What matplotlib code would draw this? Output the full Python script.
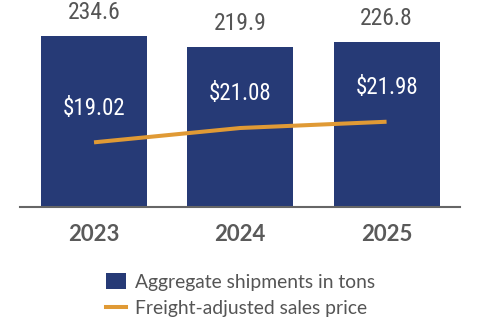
import matplotlib
matplotlib.use("Agg")
import matplotlib.pyplot as plt
from matplotlib import font_manager
from matplotlib.patches import Patch
from matplotlib.lines import Line2D

# Data
years = ["2023", "2024", "2025"]
shipments = [234.6, 219.9, 226.8]  # aggregate shipments (millions of tons)
prices = [19.02, 21.08, 21.98]  # freight-adjusted sales price ($/ton)

NAVY = "#263a76"
ORANGE = "#e09a35"
GRAY = "#555555"

# Pick a narrow font for the numbers if one is installed
names = {f.name for f in font_manager.fontManager.ttflist}
narrow = None
for cand in ["Liberation Sans Narrow", "DejaVu Sans Condensed", "Roboto Condensed"]:
    if cand in names:
        narrow = cand
        break
num_font = dict(family=narrow if narrow else "Liberation Sans")
if narrow is None:
    num_font["stretch"] = "condensed"

fig = plt.figure(figsize=(4.8, 3.22), dpi=100)
ax = fig.add_axes([20 / 480, 115 / 322, 440 / 480, 207 / 322])

x = range(len(years))
ax.bar(x, shipments, width=0.725, color=NAVY, zorder=2)
ax.set_xlim(-0.506, 2.502)
ax.set_ylim(0, 284)

for xi, v in zip(x, shipments):
    ax.annotate(f"{v:.1f}", (xi, v), xytext=(0, 17), textcoords="offset points",
                ha="center", va="center", fontsize=17, color=GRAY, **num_font)

ax.set_xticks(list(x))
ax.set_xticklabels(years, fontfamily="Lato", fontweight="bold", fontsize=16, color="#5a5a5a")
ax.tick_params(axis="x", length=0, pad=12)
ax.set_yticks([])
for s in ["top", "left", "right"]:
    ax.spines[s].set_visible(False)
ax.spines["bottom"].set_color("#666666")
ax.spines["bottom"].set_linewidth(1.5)

# Price line on a second scale
ax2 = ax.twinx()
ax2.plot(x, prices, color=ORANGE, linewidth=2.9, solid_capstyle="butt", zorder=3)
ax2.set_ylim(9.73, 39.47)
ax2.set_yticks([])
for s in ax2.spines.values():
    s.set_visible(False)

for xi, p in zip(x, prices):
    ax2.annotate(f"${p:.2f}", (xi, p), xytext=(0, 24.5), textcoords="offset points",
                 ha="center", va="center", fontsize=16.5, color="white", **num_font)

handles = [
    Patch(facecolor=NAVY, edgecolor="none"),
    Line2D([0], [0], color=ORANGE, linewidth=2.9),
]
fig.legend(handles, ["Aggregate shipments in tons", "Freight-adjusted sales price"],
           loc="upper left", bbox_to_anchor=(106 / 480, 49 / 322), frameon=False,
           borderpad=0, borderaxespad=0, handlelength=1.05, handleheight=0.88,
           handletextpad=0.45, labelspacing=0.45,
           prop=dict(family="Lato", size=13.9), labelcolor=GRAY)

fig.savefig("out.png", dpi=100)
